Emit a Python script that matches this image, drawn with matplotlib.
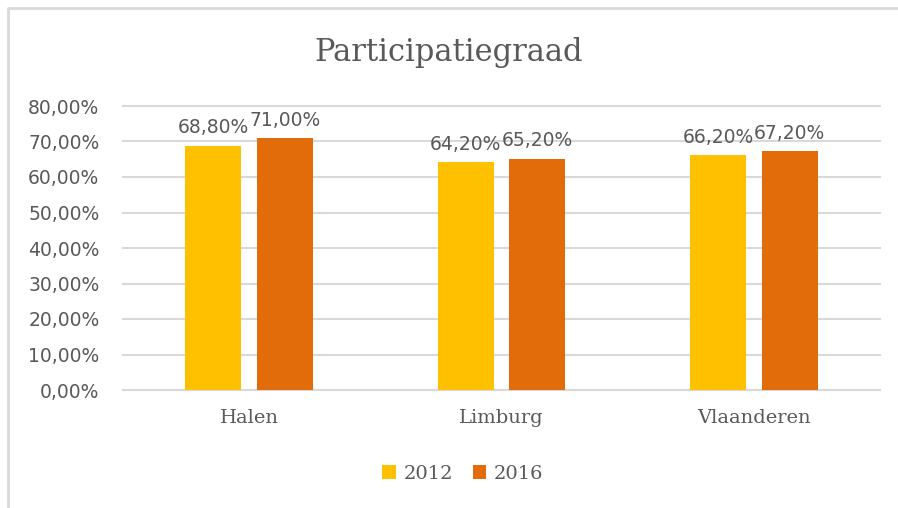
import matplotlib
matplotlib.use("Agg")
import matplotlib.pyplot as plt
from matplotlib.lines import Line2D
import numpy as np

categories = ["Halen", "Limburg", "Vlaanderen"]
series_names = ["2012", "2016"]
values_2012 = [68.8, 64.2, 66.2]
values_2016 = [71.0, 65.2, 67.2]
yticks = [0, 10, 20, 30, 40, 50, 60, 70, 80]

c2012 = "#FFC000"
c2016 = "#E36C0A"
txt = "#595959"
serif = ["DejaVu Serif"]
sans = ["DejaVu Sans"]

W, H = 898, 508
fig = plt.figure(figsize=(W / 100, H / 100), dpi=100)
fig.patch.set_facecolor("white")

# outer frame (top and left edges only visible)
fig.add_artist(Line2D([7.5 / W, 7.5 / W, 1.0], [0.0, 1 - 8 / H, 1 - 8 / H],
                      transform=fig.transFigure, color="#D9D9D9", linewidth=2))

left, right = 123 / W, 880 / W
bottom, top = 1 - 390 / H, 1 - 106 / H
ax = fig.add_axes([left, bottom, right - left, top - bottom])

x = np.arange(len(categories))
bw = 0.222
gap = 0.063
off = (bw + gap) / 2
b1 = ax.bar(x - off, values_2012, bw, color=c2012, label=series_names[0], zorder=3)
b2 = ax.bar(x + off, values_2016, bw, color=c2016, label=series_names[1], zorder=3)

def fmt(v):
    return f"{v:.2f}".replace(".", ",") + "%"

for bars, vals in ((b1, values_2012), (b2, values_2016)):
    for r, v in zip(bars, vals):
        ax.annotate(fmt(v), (r.get_x() + r.get_width() / 2, v),
                    xytext=(0, 6), textcoords="offset points",
                    ha="center", va="bottom", fontsize=13.5, color=txt,
                    family=sans)

ax.set_xlim(-0.5, 2.5)
ax.set_ylim(0, 80)
ax.set_yticks(yticks)
ax.set_yticklabels([fmt(t) for t in yticks], fontsize=13.5, color=txt, family=sans)
ax.set_xticks(x)
ax.set_xticklabels(categories, fontsize=14, color=txt, family=serif)
ax.tick_params(axis="both", length=0)
ax.tick_params(axis="y", pad=17)
ax.tick_params(axis="x", pad=14)
ax.grid(axis="y", color="#D9D9D9", linewidth=1.5, zorder=0)
for gl in ax.get_ygridlines():
    gl.set_clip_on(False)
for s in ("top", "right", "left"):
    ax.spines[s].set_visible(False)
ax.spines["bottom"].set_color("#D9D9D9")
ax.spines["bottom"].set_linewidth(1.5)

fig.text(0.5, 1 - 52 / H, "Participatiegraad", ha="center", va="center",
         fontsize=22, color=txt, family=serif)

leg = fig.legend(handles=[b1, b2], labels=series_names, loc="center",
                 bbox_to_anchor=(463 / W, 1 - 474 / H), ncol=2, frameon=False,
                 fontsize=14, handlelength=0.7, handleheight=0.7,
                 handletextpad=0.4, columnspacing=1.0)
for t in leg.get_texts():
    t.set_color(txt)
    t.set_family(serif)

fig.savefig("out.png", dpi=100, facecolor="white")
